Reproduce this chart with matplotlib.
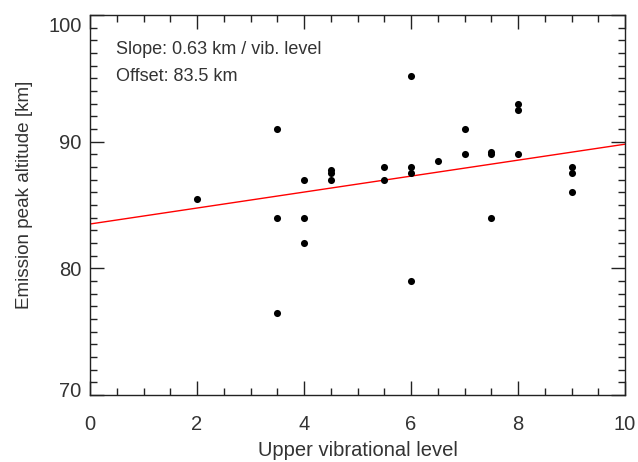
import matplotlib
matplotlib.use("Agg")
import matplotlib.pyplot as plt
import matplotlib.transforms as mtransforms
import numpy as np
from matplotlib.ticker import MultipleLocator

# Data
level = [2, 3.5, 3.5, 3.5, 4, 4, 4, 4.5, 4.5, 4.5, 5.5, 5.5,
         6, 6, 6, 6, 6.5, 7, 7, 7.5, 7.5, 7.5, 8, 8, 8, 9, 9, 9]
altitude = [85.5, 91.0, 84.0, 76.5, 87.0, 84.0, 82.0, 87.75, 87.5, 87.0, 88.0, 87.0,
            95.2, 88.0, 87.5, 79.0, 88.5, 91.0, 89.0, 89.2, 89.0, 84.0, 93.0, 92.5, 89.0,
            88.0, 87.5, 86.0]
slope = 0.63
offset = 83.5
fit_x = [0, 10]

plt.rcParams['font.family'] = ['Liberation Sans', 'DejaVu Sans']
txt = '#333333'

fig = plt.figure(figsize=(6.38, 4.62), dpi=100)
ax = fig.add_axes([90/638, 1-395/462, 535/638, 380/462])

fit_y = [offset + slope * v for v in fit_x]
ax.plot(fit_x, fit_y, color='red', lw=1.0)
ax.scatter(level, altitude, s=26, color='black', zorder=3, linewidths=0)

ax.set_xlim(0, 10)
ax.set_ylim(70, 100)
ax.xaxis.set_major_locator(MultipleLocator(2))
ax.xaxis.set_minor_locator(MultipleLocator(0.5))
ax.yaxis.set_major_locator(MultipleLocator(10))
ax.yaxis.set_minor_locator(MultipleLocator(1))
ax.tick_params(which='both', direction='in', top=True, right=True,
               colors='#222222', labelcolor=txt, labelsize=14.5)
ax.tick_params(which='major', length=10, width=1)
ax.tick_params(which='minor', length=5, width=1)
ax.tick_params(axis='x', which='major', pad=14.5)
ax.tick_params(axis='y', which='major', pad=6)
for s in ax.spines.values():
    s.set_color('#222222')
    s.set_linewidth(1)

ax.set_xlabel('Upper vibrational level', fontsize=14.5, color=txt, labelpad=5)
ax.set_ylabel('Emission peak altitude [km]', fontsize=13.6, color=txt, labelpad=11)
ax.yaxis.label.set_y(0.526)

# shift end y labels like the reference
fig.canvas.draw()
for lab in ax.get_yticklabels():
    t = lab.get_text()
    if t == '100':
        lab.set_transform(lab.get_transform() + mtransforms.ScaledTranslation(0, -9/100, fig.dpi_scale_trans))
    elif t == '70':
        lab.set_transform(lab.get_transform() + mtransforms.ScaledTranslation(0, 6/100, fig.dpi_scale_trans))

ax.text(0.0486, 0.897, f'Slope: {slope:.2f} km / vib. level', transform=ax.transAxes,
        fontsize=13, color=txt, va='baseline')
ax.text(0.0486, 0.826, f'Offset: {offset:.1f} km', transform=ax.transAxes,
        fontsize=13, color=txt, va='baseline')

fig.savefig('out.png', dpi=100)
